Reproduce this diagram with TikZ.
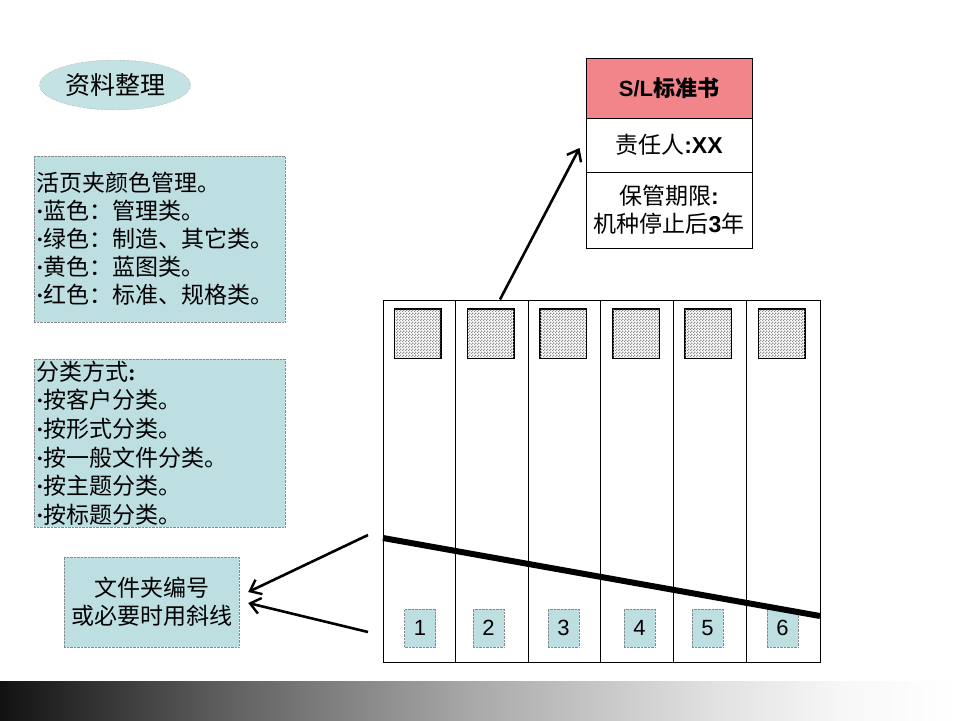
\documentclass[tikz,border=0pt]{standalone}
\usepackage{fontspec}
\setmainfont{Noto Sans CJK SC}
\newfontfamily\arial{Liberation Sans}
\newfontfamily\tnr{Liberation Serif}
\usetikzlibrary{shapes.geometric,patterns,arrows.meta}
\definecolor{tealfill}{HTML}{BEDFE2}
\definecolor{ellfill}{HTML}{C4E2E3}
\definecolor{pinkfill}{HTML}{F2858A}
\definecolor{dotgray}{HTML}{8A8A8A}
\newcommand\bulx{{\tnr\bfseries ·}}
\pgfdeclarepatternformonly{finecheck}{\pgfpointorigin}{\pgfqpoint{3pt}{3pt}}{\pgfqpoint{3pt}{3pt}}{%
  \pgfpathrectangle{\pgfpointorigin}{\pgfqpoint{1.5pt}{1.5pt}}%
  \pgfpathrectangle{\pgfqpoint{1.5pt}{1.5pt}}{\pgfqpoint{1.5pt}{1.5pt}}%
  \pgfusepath{fill}}
\pgfdeclarehorizontalshading{barshade}{100bp}{color(0bp)=(black!93); color(25bp)=(black!93); color(37bp)=(black!62); color(50bp)=(black!33); color(62bp)=(black!12); color(69bp)=(black!3); color(75bp)=(white); color(100bp)=(white)}
\tikzset{
  tealbox/.style={draw=dotgray, densely dotted, fill=tealfill, inner sep=2pt},
  tabcell/.style={draw=black, line width=1pt, fill=white, minimum width=166pt, align=center, inner sep=0pt},
  folder/.style={draw=black, line width=1pt, minimum height=362pt, inner sep=0pt},
  hatchsq/.style={draw=black, line width=1pt, minimum width=46pt, minimum height=49pt, inner sep=0pt},
  numbox/.style={tealbox, minimum width=31pt, minimum height=38pt, font=\arial\fontsize{22}{22}\selectfont},
  arr/.style={line width=2.6pt, -{Straight Barb[length=10pt,width=16pt,line width=2.4pt]}},
  txt/.style={font=\fontsize{23}{28}\selectfont}
}
\begin{document}
\begin{tikzpicture}[x=1pt,y=-1pt]
\useasboundingbox (0,0) rectangle (960,720);
% bottom bar
\shade[shading=barshade] (0,681) rectangle (960,720);
% ellipse title
\node[ellipse, draw=dotgray, densely dotted, fill=ellfill, minimum width=150pt, minimum height=50pt, font=\fontsize{25}{28}\selectfont] (title) at (115,85) {资料整理};
% box 1
\node[tealbox, txt, minimum width=251pt, minimum height=166pt, text width=247pt, align=left] (b1) at (159.5,239)
{活页夹颜色管理。\\\bulx 蓝色：管理类。\\\bulx 绿色：制造、其它类。\\\bulx 黄色：蓝图类。\\\bulx 红色：标准、规格类。};
% box 2
\node[tealbox, font=\fontsize{23}{28.6}\selectfont, minimum width=251pt, minimum height=166pt, text width=247pt, align=left] (b2) at (159.5,443)
{分类方式{\tnr\bfseries :}\\\bulx 按客户分类。\\\bulx 按形式分类。\\\bulx 按一般文件分类。\\\bulx 按主题分类。\\\bulx 按标题分类。};
% box 3
\node[tealbox, txt, minimum width=175pt, minimum height=90pt, align=center] (b3) at (151.5,602)
{文件夹编号\\或必要时用斜线};
% table
\node[tabcell, fill=pinkfill, minimum height=60pt, font=\fontsize{22}{26}\selectfont] (t1) at (669,88) {{\arial\bfseries S/L}\textbf{标准书}};
\node[tabcell, minimum height=54pt, txt] (t2) at (669,145) {责任人{\arial\bfseries :XX}};
\node[tabcell, minimum height=76pt, txt] (t3) at (669,210) {保管期限{\arial\bfseries :}\\机种停止后{\arial\bfseries 3}年};
% folders
\foreach \i/\cx/\w in {1/419/72, 2/491.5/73, 3/564/72, 4/636.5/73, 5/709.5/73, 6/783/74}{
  \node[folder, minimum width=\w pt] (f\i) at (\cx,481) {};
}
\foreach \i/\cx in {1/417.5, 2/490.5, 3/563, 4/636, 5/708, 6/781.5}{
  \node[hatchsq, fill=white] (h\i) at (\cx,333.5) {};
  \fill[pattern=finecheck, pattern color=gray!90] (h\i.south west) rectangle (h\i.north east);
  \draw[line width=1pt] (h\i.south west) rectangle (h\i.north east);
}
\foreach \i/\cx in {1/420, 2/488.5, 3/563.5, 4/639.5, 5/707.5, 6/782.5}{
  \node[numbox] (n\i) at (\cx,628) {\i};
}
% slash line
\coordinate (sl) at (383,538);
\coordinate (sr) at (820,616);
\draw[line width=6pt] (sl) -- (sr);
% arrows
\draw[arr] ([xshift=8.5pt]f2.north) -- ([xshift=-6pt,yshift=-3pt]t2.west);
\coordinate (s1) at (368,535);
\coordinate (s2) at (368,632);
\draw[arr] (s1) -- ([xshift=9pt,yshift=10pt]b3.east);
\draw[arr] (s2) -- ([xshift=9pt,yshift=-1pt]b3.east);
\end{tikzpicture}
\end{document}
